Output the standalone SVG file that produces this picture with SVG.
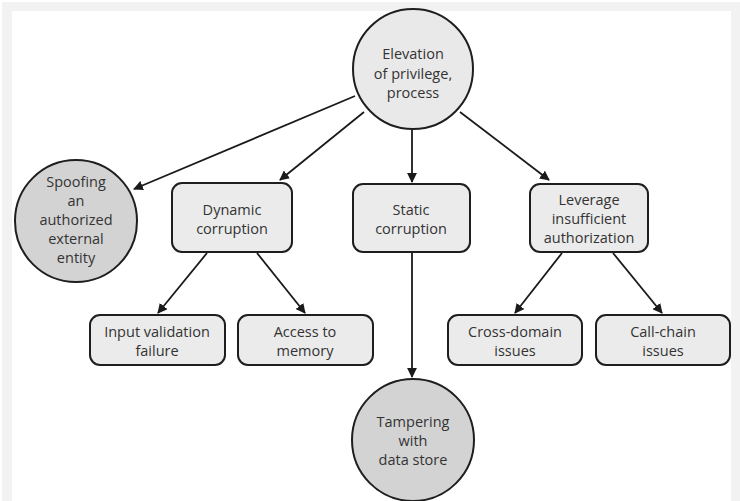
<svg xmlns="http://www.w3.org/2000/svg" width="740" height="501" viewBox="0 0 740 501">
<defs>
<marker id="ah" viewBox="0 0 10 10" refX="9" refY="5" markerWidth="5.5" markerHeight="5.5" orient="auto" markerUnits="strokeWidth">
<path d="M0,0 L10,5 L0,10 z" fill="#1a1a1a"/>
</marker>
<style>
.node-box{fill:#ebebeb;stroke:#1e1e1e;stroke-width:2}
.c-light{fill:#e9e9e9;stroke:#1e1e1e;stroke-width:2}
.c-dark{fill:#d3d3d3;stroke:#1e1e1e;stroke-width:2}
.t{font-family:"Open Sans","Noto Sans",sans-serif;font-size:14.5px;fill:#333333;text-anchor:middle}
.edge{stroke:#1a1a1a;stroke-width:1.8;fill:none;marker-end:url(#ah)}
.band{fill:#f2f2f2}
</style>
</defs>
<rect width="740" height="501" fill="#ffffff"/>
<rect class="band" x="2" y="2" width="738" height="9"/>
<rect class="band" x="2" y="2" width="10" height="499"/>
<rect class="band" x="731" y="2" width="9" height="499"/>

<g id="connectors">
<line class="edge" x1="355" y1="96" x2="134" y2="189"/>
<line class="edge" x1="364" y1="112" x2="280" y2="180"/>
<line class="edge" x1="412" y1="130" x2="412" y2="182"/>
<line class="edge" x1="460" y1="112" x2="549" y2="180"/>
<line class="edge" x1="207" y1="253" x2="158" y2="313"/>
<line class="edge" x1="257" y1="253" x2="305" y2="313"/>
<line class="edge" x1="412" y1="253" x2="412" y2="377"/>
<line class="edge" x1="562" y1="253" x2="515" y2="313"/>
<line class="edge" x1="613" y1="253" x2="662" y2="313"/>
</g>

<g id="elevation">
<circle class="c-light" cx="413" cy="69" r="60"/>
<text class="t" x="413" y="59">Elevation</text>
<text class="t" x="413" y="79">of privilege,</text>
<text class="t" x="413" y="98">process</text>
</g>

<g id="spoofing">
<circle class="c-dark" cx="76" cy="221" r="61"/>
<text class="t" x="76" y="187">Spoofing</text>
<text class="t" x="76" y="206">an</text>
<text class="t" x="76" y="225">authorized</text>
<text class="t" x="76" y="244">external</text>
<text class="t" x="76" y="263">entity</text>
</g>

<g id="dynamic">
<rect class="node-box" x="172" y="183" width="120" height="69" rx="10"/>
<text class="t" x="232" y="215">Dynamic</text>
<text class="t" x="232" y="234">corruption</text>
</g>

<g id="static">
<rect class="node-box" x="353" y="184" width="117" height="68" rx="10"/>
<text class="t" x="411" y="215">Static</text>
<text class="t" x="411" y="234">corruption</text>
</g>

<g id="leverage">
<rect class="node-box" x="530" y="184" width="118" height="68" rx="10"/>
<text class="t" x="589" y="205">Leverage</text>
<text class="t" x="589" y="224">insufficient</text>
<text class="t" x="589" y="243">authorization</text>
</g>

<g id="input">
<rect class="node-box" x="90" y="315" width="135" height="50" rx="10"/>
<text class="t" x="157" y="337">Input validation</text>
<text class="t" x="157" y="356">failure</text>
</g>

<g id="access">
<rect class="node-box" x="238" y="315" width="135" height="50" rx="10"/>
<text class="t" x="305" y="337">Access to</text>
<text class="t" x="305" y="356">memory</text>
</g>

<g id="crossdomain">
<rect class="node-box" x="448" y="315" width="134" height="50" rx="10"/>
<text class="t" x="515" y="337">Cross-domain</text>
<text class="t" x="515" y="356">issues</text>
</g>

<g id="callchain">
<rect class="node-box" x="596" y="315" width="134" height="50" rx="10"/>
<text class="t" x="663" y="337">Call-chain</text>
<text class="t" x="663" y="356">issues</text>
</g>

<g id="tampering">
<circle class="c-dark" cx="413" cy="440" r="61"/>
<text class="t" x="413" y="427">Tampering</text>
<text class="t" x="413" y="446">with</text>
<text class="t" x="413" y="465">data store</text>
</g>
</svg>
